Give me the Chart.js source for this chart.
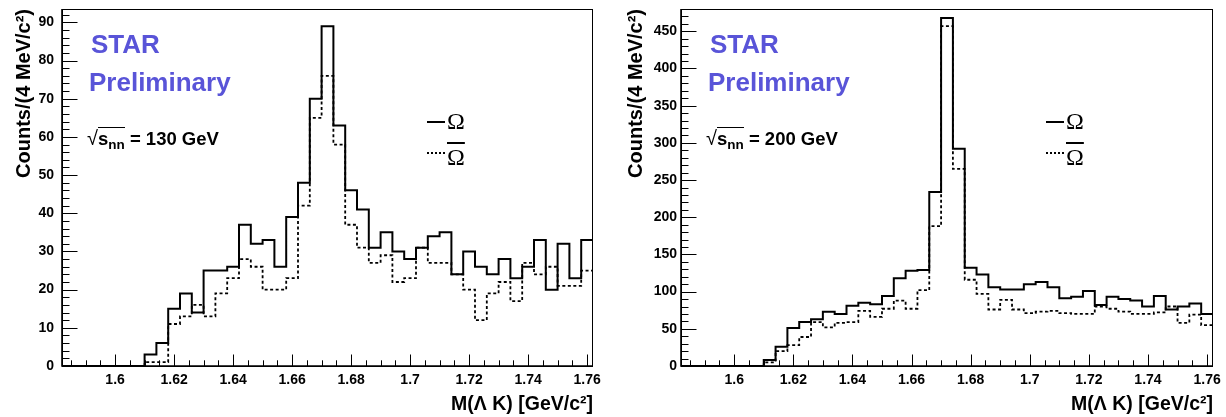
<!DOCTYPE html>
<html>
<head>
<meta charset="utf-8">
<script src="https://cdn.jsdelivr.net/npm/chart.js@4/dist/chart.umd.min.js"></script>
<style>
  body { margin: 0; background: #fff; }
  #lienzo { position: relative; width: 1226px; height: 417px; overflow: hidden; font-family: 'Liberation Sans', Arial, sans-serif; }
  .panel { position: absolute; top: 0; height: 417px; }
  .panel canvas { position: absolute; left: 0; top: 0; }
  .nota { position: absolute; white-space: nowrap; line-height: 1; font-weight: bold; color: #000; }
  .star { color: #5954d8; font-size: 26px; }
  .energia { font-size: 18.5px; }
  .raiz { font-weight: normal; font-size: 20px; }
  .bajoRaiz { border-top: 1.5px solid #000; }
  .energia sub { font-size: 13.5px; vertical-align: -4px; line-height: 1; }
  .omega { font-family: 'Liberation Serif', 'DejaVu Serif', serif; font-size: 24px; font-weight: normal; }
  .barra { text-decoration: overline; text-decoration-thickness: 1.5px; }
  .linea { position: absolute; width: 18px; height: 0; }
</style>
</head>
<body>
<div id="lienzo">
  <div class="panel" style="left:0; width:613px;">
    <canvas id="grafico130" width="613" height="417"></canvas>
    <div class="nota star" style="left:91px; top:31px;">STAR</div>
    <div class="nota star" style="left:89px; top:69px;">Preliminary</div>
    <div class="nota energia" style="left:87px; top:128px;"><span class="raiz">√</span><span class="bajoRaiz">s<sub>nn</sub></span> = 130 GeV</div>
    <div class="linea" style="left:427px; top:121px; border-top:2.5px solid #000;"></div>
    <div class="nota omega" style="left:447px; top:109px;">Ω</div>
    <div class="linea" style="left:427px; top:152px; border-top:2.5px dotted #000;"></div>
    <div class="nota omega barra" style="left:447px; top:145px;">Ω</div>
  </div>
  <div class="panel" style="left:619px; width:607px;">
    <canvas id="grafico200" width="607" height="417"></canvas>
    <div class="nota star" style="left:91px; top:31px;">STAR</div>
    <div class="nota star" style="left:89px; top:69px;">Preliminary</div>
    <div class="nota energia" style="left:87px; top:128px;"><span class="raiz">√</span><span class="bajoRaiz">s<sub>nn</sub></span> = 200 GeV</div>
    <div class="linea" style="left:427px; top:121px; border-top:2.5px solid #000;"></div>
    <div class="nota omega" style="left:447px; top:109px;">Ω</div>
    <div class="linea" style="left:427px; top:152px; border-top:2.5px dotted #000;"></div>
    <div class="nota omega barra" style="left:447px; top:145px;">Ω</div>
  </div>
</div>

<script>
// ============ Datos: cuentas por bin de 4 MeV, desde 1.582 hasta 1.762 GeV ============
const inicioBins = 1.582;
const anchoBin = 0.004;

const omega130 = [0, 0, 0, 0, 0, 0, 0, 3, 6, 15, 19, 14, 25, 25, 26, 37, 32, 33, 26, 39, 48, 70, 89, 63, 46,
                  41, 31, 35, 30, 28, 31, 34, 35, 24, 30, 26, 24, 28, 23, 26, 33, 20, 32, 23, 33];
const antiOmega130 = [0, 0, 0, 0, 0, 0, 0, 1, 1, 11, 13, 16, 13, 19, 23, 28, 26, 20, 20, 23, 42, 65, 76, 58, 37,
                      31, 27, 29, 22, 23, 31, 27, 27, 24, 20, 12, 19, 22, 17, 27, 24, 26, 21, 21, 25];

const omega200 = [0, 0, 0, 0, 0, 0, 0, 8, 26, 51, 59, 63, 73, 70, 81, 85, 83, 94, 118, 128, 129, 234, 468, 292, 132,
                  123, 106, 103, 103, 110, 113, 106, 91, 93, 101, 82, 93, 90, 88, 80, 94, 76, 80, 84, 70];
const antiOmega200 = [0, 0, 0, 0, 0, 0, 0, 5, 20, 28, 39, 59, 52, 58, 59, 74, 66, 77, 88, 77, 102, 188, 457, 265, 116,
                      97, 76, 89, 76, 71, 73, 74, 71, 70, 70, 80, 77, 73, 70, 70, 72, 80, 58, 69, 55];

// ============ Marcas de los ejes ============
const marcasX = [1.6, 1.62, 1.64, 1.66, 1.68, 1.7, 1.72, 1.74, 1.76];
const marcasY130 = [0, 10, 20, 30, 40, 50, 60, 70, 80, 90];
const marcasY200 = [0, 50, 100, 150, 200, 250, 300, 350, 400, 450];

Chart.defaults.font.family = "'Liberation Sans', Arial, sans-serif";
Chart.defaults.color = '#000';

// Puntos del histograma: un punto por borde inferior de bin, y cierre a cero al final
function puntosHistograma(valores) {
    const pts = valores.map((v, i) => ({ x: inicioBins + i * anchoBin, y: v }));
    const fin = inicioBins + valores.length * anchoBin;
    pts.push({ x: fin, y: valores[valores.length - 1] });
    pts.push({ x: fin, y: 0 });
    return pts;
}

// ============ Marco y marcas hacia adentro (estilo ROOT) ============
const marcoYMarcas = {
    id: 'marcoYMarcas',
    afterDatasetsDraw(chart, args, opts) {
        const { ctx, chartArea: a, scales } = chart;
        const x = scales.x, y = scales.y;
        ctx.save();
        ctx.strokeStyle = '#000';
        ctx.lineWidth = 1;
        ctx.strokeRect(Math.round(a.left) + 0.5, Math.round(a.top) + 0.5,
                       Math.round(a.right - a.left) - 1, Math.round(a.bottom - a.top));

        ctx.beginPath();
        ctx.lineWidth = 1;
        // menores en x cada 0.005
        for (let k = 317; k <= 352; k++) {
            const px = Math.round(x.getPixelForValue(k * 0.005)) + 0.5;
            ctx.moveTo(px, a.bottom);
            ctx.lineTo(px, a.bottom - 5.7);
        }
        marcasX.forEach(v => {
            const px = Math.round(x.getPixelForValue(v)) + 0.5;
            ctx.moveTo(px, a.bottom);
            ctx.lineTo(px, a.bottom - 11.5);
        });
        for (let v = 0; v <= y.max; v += opts.pasoMenorY) {
            const py = Math.round(y.getPixelForValue(v)) + 0.5;
            ctx.moveTo(a.left, py);
            ctx.lineTo(a.left + 7.5, py);
        }
        opts.marcasY.forEach(v => {
            const py = Math.round(y.getPixelForValue(v)) + 0.5;
            ctx.moveTo(a.left, py);
            ctx.lineTo(a.left + 15.5, py);
        });
        ctx.stroke();

        // ejes inferior e izquierdo un poco mas gruesos
        ctx.beginPath();
        ctx.lineWidth = 1.6;
        ctx.moveTo(a.left, a.top);
        ctx.lineTo(a.left, a.bottom);
        ctx.lineTo(a.right, a.bottom);
        ctx.stroke();
        ctx.restore();
    }
};

function crearPanel(idCanvas, omega, antiOmega, yMax, marcasY, pasoMenorY, ajuste) {
    const fuenteMarcas = { size: 14, weight: 'bold' };
    return new Chart(document.getElementById(idCanvas), {
        type: 'line',
        data: {
            datasets: [
                {
                    label: 'Ω',
                    data: puntosHistograma(omega),
                    borderColor: '#000',
                    borderWidth: 2,
                    stepped: true,
                    pointRadius: 0,
                    fill: false
                },
                {
                    label: 'anti-Ω',
                    data: puntosHistograma(antiOmega),
                    borderColor: '#000',
                    borderWidth: 1.8,
                    borderDash: [3, 2.5],
                    stepped: true,
                    pointRadius: 0,
                    fill: false
                }
            ]
        },
        options: {
            responsive: false,
            animation: false,
            events: [],
            layout: { padding: { left: 0, right: ajuste.derecha, top: 9, bottom: 0 } },
            plugins: {
                legend: { display: false },
                tooltip: { enabled: false },
                marcoYMarcas: { marcasY: marcasY, pasoMenorY: pasoMenorY }
            },
            scales: {
                x: {
                    type: 'linear',
                    min: inicioBins,
                    max: inicioBins + omega.length * anchoBin,
                    grid: { display: false, drawTicks: false },
                    border: { display: false },
                    afterBuildTicks: s => { s.ticks = marcasX.map(v => ({ value: v })); },
                    afterFit: s => { s.height = 51; s.paddingLeft = 0; s.paddingRight = 0; },
                    ticks: {
                        padding: 6,
                        maxRotation: 0,
                        autoSkip: false,
                        font: fuenteMarcas,
                        callback: v => String(+v.toFixed(2))
                    },
                    title: {
                        display: true,
                        text: 'M(Λ K) [GeV/c²]',
                        align: 'end',
                        padding: { top: 0, bottom: 1 },
                        font: { size: 19.5, weight: 'bold' }
                    }
                },
                y: {
                    min: 0,
                    max: yMax,
                    grid: { display: false, drawTicks: false },
                    border: { display: false },
                    afterBuildTicks: s => { s.ticks = marcasY.map(v => ({ value: v })); },
                    afterFit: s => { s.width = 62; s.paddingTop = 0; s.paddingBottom = 0; },
                    ticks: { padding: ajuste.rellenoY, font: fuenteMarcas },
                    title: {
                        display: true,
                        text: 'Counts/(4 MeV/c²)',
                        align: 'end',
                        padding: { top: ajuste.tituloY, bottom: 0 },
                        font: { size: 20, weight: 'bold' }
                    }
                }
            }
        },
        plugins: [marcoYMarcas]
    });
}

crearPanel('grafico130', omega130, antiOmega130, 93.5, marcasY130, 2, { derecha: 20, rellenoY: 8, tituloY: 12 });
crearPanel('grafico200', omega200, antiOmega200, 480, marcasY200, 10, { derecha: 13, rellenoY: 4, tituloY: 5.5 });
</script>
</body>
</html>
